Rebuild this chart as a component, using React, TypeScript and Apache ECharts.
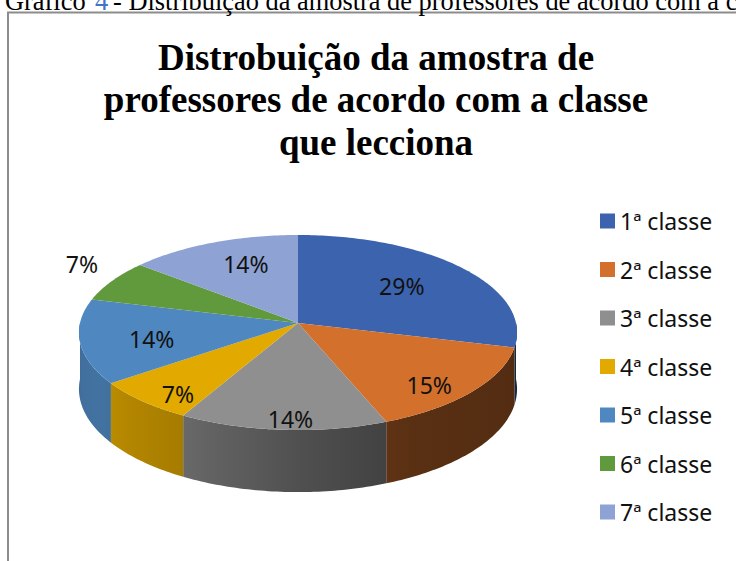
import React, { useEffect, useRef } from 'react';
import * as echarts from 'echarts';

// ---- data ----
const categories = ['1ª classe', '2ª classe', '3ª classe', '4ª classe', '5ª classe', '6ª classe', '7ª classe'];
const percentages = [29, 15, 14, 7, 14, 7, 14];
const colors = ['#3C64AE', '#D2702C', '#8F8F8F', '#E2A900', '#4F88C0', '#619A3C', '#8EA2D4'];
const chartTitle = 'Distrobuição da amostra de\nprofessores de acordo com a classe\nque lecciona';
const captionWord = 'Gráfico';
const captionNumber = '4';
const captionRest = '- Distribuição da amostra de professores de acordo com a classe que lecciona';

// ---- geometry of the 3D pie (layout only) ----
const CX = 298;
const CY = 323;
const RX = 218;
const RY = 96.6;
const K = 0.0975; // perspective
const DEPTH = 56;
const LABEL_FONT = 'Noto Sans';
// lighting of the side wall by angle (degrees clockwise from 12 o'clock)
const LIGHT: [number, number][] = [
  [90, 0.38],
  [150, 0.42],
  [180, 0.56],
  [210, 0.74],
  [240, 0.84],
  [270, 0.8],
];

function project(r: number, deg: number): [number, number, number] {
  const t = (deg * Math.PI) / 180;
  const X = r * Math.sin(t);
  const Z = r * Math.cos(t);
  const s = 1 / (1 + K * Z);
  return [CX + RX * X * s, CY - RY * Z * s, s];
}

function shade(hex: string, f: number): string {
  const n = parseInt(hex.slice(1), 16);
  const r = Math.max(0, Math.min(255, Math.round(((n >> 16) & 255) * f)));
  const g = Math.max(0, Math.min(255, Math.round(((n >> 8) & 255) * f)));
  const b = Math.max(0, Math.min(255, Math.round((n & 255) * f)));
  return `rgb(${r},${g},${b})`;
}

function sideFactor(deg: number): number {
  if (deg <= LIGHT[0][0]) return LIGHT[0][1];
  for (let i = 1; i < LIGHT.length; i++) {
    const [a1, f1] = LIGHT[i];
    const [a0, f0] = LIGHT[i - 1];
    if (deg <= a1) return f0 + ((f1 - f0) * (deg - a0)) / (a1 - a0);
  }
  return LIGHT[LIGHT.length - 1][1];
}

function arc(a0: number, a1: number, dy = 0): number[][] {
  const pts: number[][] = [];
  const n = Math.max(2, Math.ceil(Math.abs(a1 - a0)));
  for (let j = 0; j <= n; j++) {
    const a = a0 + ((a1 - a0) * j) / n;
    const [x, y, s] = project(1, a);
    pts.push([x, y + dy * s]);
  }
  return pts;
}

// area-weighted centroid of a polygon: returns [area, cx, cy]
function centroid(pts: number[][]): [number, number, number] {
  let a = 0;
  let cx = 0;
  let cy = 0;
  for (let i = 0; i < pts.length; i++) {
    const [x0, y0] = pts[i];
    const [x1, y1] = pts[(i + 1) % pts.length];
    const cr = x0 * y1 - x1 * y0;
    a += cr;
    cx += (x0 + x1) * cr;
    cy += (y0 + y1) * cr;
  }
  a /= 2;
  if (Math.abs(a) < 1e-6) return [0, 0, 0];
  return [Math.abs(a), cx / (6 * a), cy / (6 * a)];
}

const total = percentages.reduce((a, b) => a + b, 0);

function makeRenderItem(index: number) {
  return (params: any, api: any) => {
    const before = percentages.slice(0, index).reduce((a, b) => a + b, 0);
    const value = api.value(0) as number;
    const start = (before / total) * 360;
    const end = start + (value / total) * 360;
    const color = colors[index];
    const children: any[] = [];
    const parts: [number, number, number][] = [];

    // front side wall
    const s0 = Math.max(start, 90);
    const e0 = Math.min(end, 270);
    if (s0 < e0) {
      const poly = arc(s0, e0).concat(arc(e0, s0, DEPTH));
      parts.push(centroid(poly));
      const xs = poly.map((p) => p[0]);
      const minX = Math.min(...xs);
      const maxX = Math.max(...xs);
      const stops: { offset: number; color: string }[] = [];
      const n = 8;
      for (let j = 0; j <= n; j++) {
        const a = s0 + ((e0 - s0) * j) / n;
        const x = project(1, a)[0];
        const off = maxX > minX ? (x - minX) / (maxX - minX) : 0;
        stops.push({ offset: Math.max(0, Math.min(1, off)), color: shade(color, sideFactor(a)) });
      }
      stops.sort((p, q) => p.offset - q.offset);
      children.push({
        type: 'polygon',
        shape: { points: poly },
        style: { fill: new echarts.graphic.LinearGradient(0, 0, 1, 0, stops) },
      });
    }

    // top face
    const c = project(0, 0);
    const topPts = [[c[0], c[1]]].concat(arc(start, end));
    parts.push(centroid(topPts));
    children.push({
      type: 'polygon',
      shape: { points: topPts },
      style: { fill: color },
    });

    // label at the centroid of the visible slice (outside for thin back slices)
    const mid = (start + end) / 2;
    const cosm = Math.cos((mid * Math.PI) / 180);
    let lx: number;
    let ly: number;
    if (value < 10 && cosm > 0) {
      const p = project(1.17, mid);
      lx = p[0];
      ly = p[1] - 10;
    } else {
      let A = 0;
      let sx = 0;
      let sy = 0;
      parts.forEach(([a, x, y]) => {
        A += a;
        sx += a * x;
        sy += a * y;
      });
      lx = sx / A + 4;
      ly = sy / A - 7;
    }
    children.push({
      type: 'text',
      x: lx,
      y: ly,
      z2: 10,
      style: {
        text: `${value}%`,
        fill: '#111',
        fontSize: 23,
        fontFamily: LABEL_FONT,
        align: 'center',
        verticalAlign: 'middle',
      },
    });

    return { type: 'group', children };
  };
}

export default function App() {
  const ref = useRef<HTMLDivElement>(null);

  useEffect(() => {
    if (!ref.current) return;
    const chart = echarts.init(ref.current, undefined, { renderer: 'svg' });
    const series = categories.map((name, i) => ({
      type: 'custom',
      name,
      coordinateSystem: 'none',
      silent: true,
      z: 2,
      itemStyle: { color: colors[i] },
      data: [[percentages[i]]],
      renderItem: makeRenderItem(i),
    }));
    const captionStyle = { fontSize: 26.4, fontFamily: 'Liberation Serif', verticalAlign: 'middle' };
    chart.setOption({
      animation: false,
      backgroundColor: '#ffffff',
      legend: {
        orient: 'vertical',
        left: 600,
        top: 209.5,
        padding: 0,
        icon: 'rect',
        itemWidth: 15,
        itemHeight: 15,
        itemGap: 25.5,
        selectedMode: false,
        data: categories,
        textStyle: { fontSize: 23, lineHeight: 23, fontFamily: LABEL_FONT, color: '#111' },
      },
      graphic: [
        {
          type: 'rect',
          shape: { x: 8, y: 12.5, width: 900, height: 700 },
          style: { fill: 'none', stroke: '#8c8c8c', lineWidth: 2 },
          silent: true,
        },
        {
          type: 'text',
          x: 5,
          y: 1,
          style: { ...captionStyle, text: captionWord, fill: '#000' },
          silent: true,
        },
        {
          type: 'text',
          x: 95,
          y: 1,
          style: { ...captionStyle, text: captionNumber, fill: '#4472C4' },
          silent: true,
        },
        {
          type: 'text',
          x: 113,
          y: 1,
          style: { ...captionStyle, text: captionRest, fill: '#000' },
          silent: true,
        },
        {
          type: 'text',
          x: 376,
          y: 36,
          style: {
            text: chartTitle,
            fontSize: 37,
            lineHeight: 42.5,
            fontWeight: 'bold',
            fontFamily: 'Liberation Serif',
            fill: '#000',
            align: 'center',
            verticalAlign: 'top',
          },
          silent: true,
        },
      ],
      series,
    });
    return () => chart.dispose();
  }, []);

  return (
    <div
      ref={ref}
      style={{ position: 'fixed', left: 0, top: 0, width: 736, height: 561, background: '#fff' }}
    />
  );
}
